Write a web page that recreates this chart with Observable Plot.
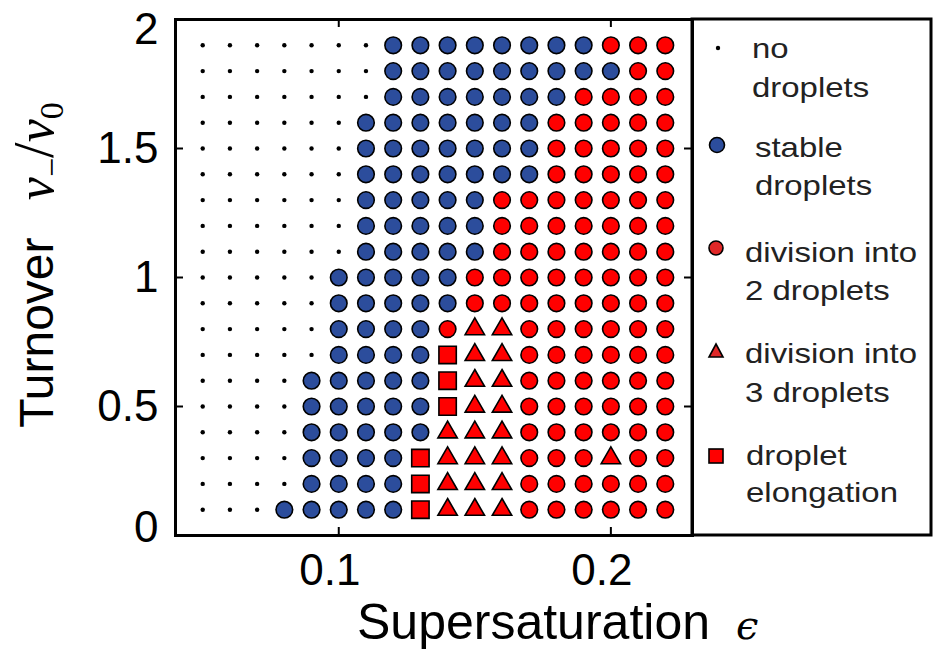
<!DOCTYPE html>
<html><head><meta charset="utf-8">
<script src="https://cdn.jsdelivr.net/npm/d3@7"></script>
<script src="https://cdn.jsdelivr.net/npm/@observablehq/plot@0.6"></script>
<style>body{margin:0;background:#fff;} #chart{width:933px;height:650px;}</style>
</head><body><div id="chart"></div>
<script>
// Supersaturation epsilon (columns)
const epsValues = [0.05,0.06,0.07,0.08,0.09,0.10,0.11,0.12,0.13,0.14,0.15,0.16,0.17,0.18,0.19,0.20,0.21,0.22];
// Turnover nu_-/nu_0 (rows, top to bottom)
const nuValues = [1.9,1.8,1.7,1.6,1.5,1.4,1.3,1.2,1.1,1.0,0.9,0.8,0.7,0.6,0.5,0.4,0.3,0.2,0.1];
// Outcome per grid point: n = no droplets, b = stable droplets, r = division into 2,
// t = division into 3, s = droplet elongation
const outcomeRows = [
  "nnnnnnnbbbbbbbbrrr", // 1.9
  "nnnnnnnbbbbbbbbbrr", // 1.8
  "nnnnnnnbbbbbbbrrrr", // 1.7
  "nnnnnnbbbbbbbrrrrr", // 1.6
  "nnnnnnbbbbbbbrrrrr", // 1.5
  "nnnnnnbbbbbbbrrrrr", // 1.4
  "nnnnnnbbbbbrrrrrrr", // 1.3
  "nnnnnnbbbbbrrrrrrr", // 1.2
  "nnnnnnbbbbbrrrrrrr", // 1.1
  "nnnnnbbbbbrrrrrrrr", // 1.0
  "nnnnnbbbbbrrrrrrrr", // 0.9
  "nnnnnbbbbrttrrrrrr", // 0.8
  "nnnnnbbbbsttrrrrrr", // 0.7
  "nnnnbbbbbsttrrrrrr", // 0.6
  "nnnnbbbbbsttrrrrrr", // 0.5
  "nnnnbbbbbtttrrrrrr", // 0.4
  "nnnnbbbbstttrrrtrr", // 0.3
  "nnnnbbbbstttrrrrrr", // 0.2
  "nnnbbbbbstttrrrrrr"  // 0.1
];
const outcomeCodes = ["n","b","r","t","s"];
const outcomeLabels = [["no","droplets"],["stable","droplets"],["division into","2 droplets"],["division into","3 droplets"],["droplet","elongation"]];
const xTickValues = [0.1, 0.2];
const yTickValues = [0, 0.5, 1, 1.5, 2];
const yTickLabels = ["0", "0.5", "1", "1.5", "2"];

const data = [];
outcomeRows.forEach((row, i) => {
  [...row].forEach((c, j) => data.push({eps: epsValues[j], nu: nuValues[i], code: c}));
});

const BLUE = "#2c4d9c", RED = "#ff0000";
const symStyle = {
  n: {symbol: "circle", r: 2.2, fill: "#000", stroke: "none", strokeWidth: 0},
  b: {symbol: "circle", r: 8.3, fill: BLUE, stroke: "#000", strokeWidth: 1.6},
  r: {symbol: "circle", r: 8.3, fill: RED, stroke: "#000", strokeWidth: 1.6},
  t: {symbol: "triangle", r: 7.2, fill: RED, stroke: "#000", strokeWidth: 1.6},
  s: {symbol: "square", r: 9.8, fill: RED, stroke: "#000", strokeWidth: 1.6}
};

const W = 933, H = 650, ML = 175, MR = 241, MT = 19, MB = 115;
const FW = W - ML - MR, FH = H - MT - MB;
const sans = "'Liberation Sans', Arial, Helvetica, sans-serif";

const dotMarks = outcomeCodes.map(c => Plot.dot(data.filter(d => d.code === c), {x: "eps", y: "nu", ...symStyle[c]}));

const chart = Plot.plot({
  width: W, height: H,
  marginLeft: ML, marginRight: MR, marginTop: MT, marginBottom: MB,
  x: {domain: [0.04, 0.23], axis: null},
  y: {domain: [0, 2], axis: null},
  style: {fontFamily: sans, background: "white", color: "#000"},
  marks: [
    ...dotMarks,
    // inward ticks
    Plot.tickX(xTickValues, {x: d => d, insetTop: FH - 8, stroke: "#000", strokeWidth: 2}),
    Plot.tickX(xTickValues, {x: d => d, insetBottom: FH - 8, stroke: "#000", strokeWidth: 2}),
    Plot.tickY(yTickValues.slice(1, 4), {y: d => d, insetRight: FW - 8, stroke: "#000", strokeWidth: 2}),
    Plot.tickY(yTickValues.slice(1, 4), {y: d => d, insetLeft: FW - 8, stroke: "#000", strokeWidth: 2}),
    Plot.frame({stroke: "#000", strokeWidth: 3}),
    // tick labels
    Plot.text(xTickValues, {x: d => d, text: d => String(d), frameAnchor: "bottom", lineAnchor: "top", dy: 18, dx: -9, fontSize: 44, fill: "#000"}),
    Plot.text([0.5, 1, 1.5], {y: d => d, text: d => yTickLabels[yTickValues.indexOf(d)], frameAnchor: "left", textAnchor: "end", dx: -17, fontSize: 44, fill: "#000"}),
    Plot.text([2], {y: d => d, text: d => yTickLabels[yTickValues.indexOf(d)], frameAnchor: "left", textAnchor: "end", dx: -17, dy: 10, fontSize: 44, fill: "#000"}),
    Plot.text([0], {y: d => d, text: d => yTickLabels[yTickValues.indexOf(d)], frameAnchor: "left", textAnchor: "end", dx: -17, dy: -8, fontSize: 44, fill: "#000"})
  ]
});
document.getElementById("chart").appendChild(chart);

const svg = d3.select(chart);
// legend box
svg.append("rect").attr("x", ML + FW).attr("y", MT).attr("width", W - 2 - (ML + FW)).attr("height", FH)
  .attr("fill", "none").attr("stroke", "#000").attr("stroke-width", 3);

const leg = svg.append("g").attr("text-anchor", "start");
const legSym = [
  {y: 48, c: "n"}, {y: 145, c: "b"}, {y: 248, c: "r"}, {y: 351, c: "t"}, {y: 456, c: "s"}
];
const legText = [[58, 97], [157, 195], [262, 300], [363, 402], [465, 502]];
const legX = [752, 755, 745, 745, 746];
const LRED = "#e02828";
legSym.forEach((s, i) => {
  const cx = 716;
  if (s.c === "n") leg.append("circle").attr("cx", cx + 2).attr("cy", s.y).attr("r", 2.2).attr("fill", "#000");
  if (s.c === "b") leg.append("circle").attr("cx", cx + 1).attr("cy", s.y).attr("r", 7.5).attr("fill", BLUE).attr("stroke", "#000").attr("stroke-width", 1.6);
  if (s.c === "r") leg.append("circle").attr("cx", cx).attr("cy", s.y).attr("r", 7).attr("fill", LRED).attr("stroke", "#000").attr("stroke-width", 1.6);
  if (s.c === "t") leg.append("path").attr("d", `M${cx},${s.y - 7}L${cx + 7},${s.y + 6}L${cx - 7},${s.y + 6}Z`).attr("fill", LRED).attr("stroke", "#000").attr("stroke-width", 1.6);
  if (s.c === "s") leg.append("rect").attr("x", cx - 7).attr("y", s.y - 7).attr("width", 14).attr("height", 14).attr("fill", RED).attr("stroke", "#000").attr("stroke-width", 1.6);
  outcomeLabels[i].forEach((t, k) => {
    leg.append("text").attr("transform", `translate(${legX[i]},${legText[i][k]}) scale(1.22,1)`)
      .attr("text-anchor", "start")
      .attr("font-family", sans).attr("font-size", 27).attr("fill", "#222").text(t);
  });
});

// x axis title
const xt = svg.append("text").attr("x", 357).attr("y", 639).attr("text-anchor", "start")
  .attr("font-family", sans).attr("font-size", 50).attr("fill", "#000");
xt.append("tspan").text("Supersaturation");
xt.append("tspan").attr("x", 736).attr("font-family", "'DejaVu Serif', serif").attr("font-style", "italic").attr("font-size", 40).text("ϵ");

// y axis title
const yt = svg.append("text").attr("transform", "translate(53,265) rotate(-90)").attr("text-anchor", "middle")
  .attr("font-family", sans).attr("font-size", 48).attr("fill", "#000");
yt.append("tspan").text("Turnover\u2002 ");
yt.append("tspan").attr("font-family", "'Liberation Serif', 'DejaVu Serif', serif").attr("font-style", "italic").attr("font-size", 52).text("ν");
yt.append("tspan").attr("font-family", "'Liberation Serif', serif").attr("font-size", 34).attr("dy", 10).text("−");
yt.append("tspan").attr("font-family", "'Liberation Serif', serif").attr("font-size", 56).attr("dy", -10).text("/");
yt.append("tspan").attr("font-family", "'Liberation Serif', 'DejaVu Serif', serif").attr("font-style", "italic").attr("font-size", 52).text("ν");
yt.append("tspan").attr("font-family", "'Liberation Serif', serif").attr("font-size", 34).attr("dy", 10).text("0");
</script>
</body></html>
